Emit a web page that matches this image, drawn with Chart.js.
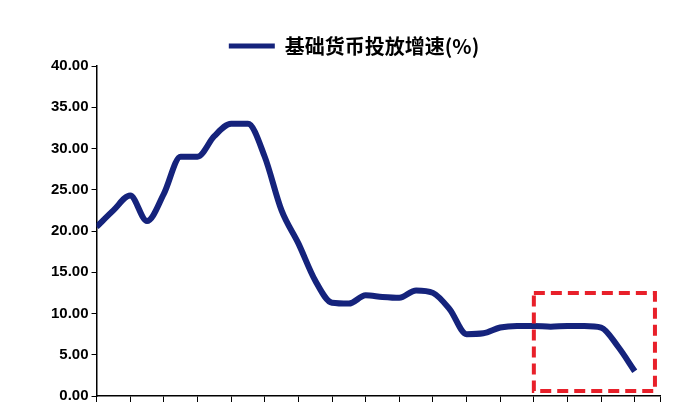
<!DOCTYPE html>
<html><head><meta charset="utf-8">
<script src="https://cdn.jsdelivr.net/npm/chart.js@4"></script>
<style>body{margin:0;background:#fff}#w{width:686px;height:408px}</style>
</head><body><div id="w"><canvas id="c"></canvas></div>
<script>
const seriesName = "基础货币投放增速(%)";
const xIndex = [0,1,2,3,4,5,6,7,8,9,10,11,12,13,14,15,16,17,18,19,20,21,22,23,24,25,26,27,28,29,30,31,32];
const values = [20.5,22.5,24.3,21.2,24.5,29,29,31.5,33,33,29,22.5,18.5,14,11.3,11.2,12.2,12,11.9,12.8,12.5,10.5,7.5,7.6,8.3,8.5,8.5,8.4,8.5,8.5,8.3,6,3];
const yTicks = [0,5,10,15,20,25,30,35,40];
const boxRange = {x0:26, x1:33.2, y0:0.6, y1:12.5};

const boxPlugin = {id:'box', afterDatasetsDraw(ch){
  const {ctx, scales:{x,y}} = ch;
  ctx.save(); ctx.strokeStyle='#e8202a'; ctx.lineWidth=4; ctx.setLineDash([11,6]);
  const l=x.getPixelForValue(boxRange.x0), r=x.getPixelForValue(boxRange.x1);
  const t=y.getPixelForValue(boxRange.y1), b=y.getPixelForValue(boxRange.y0);
  ctx.strokeRect(l,t,r-l,b-t); ctx.restore();
}};
new Chart(document.getElementById('c'), {
  type:'line',
  data:{datasets:[{label:seriesName, data:xIndex.map((v,i)=>({x:v,y:values[i]})),
    borderColor:'#15237c', backgroundColor:'#15237c', borderWidth:6, pointRadius:0, tension:0.4, cubicInterpolationMode:'monotone'}]},
  options:{responsive:true, maintainAspectRatio:false, animation:false,
    layout:{padding:{left:48,right:26,top:14,bottom:0}},
    plugins:{legend:{labels:{color:'#000',font:{size:20,weight:'bold',family:'Noto Sans CJK SC'},boxWidth:46,boxHeight:5,padding:22,
      generateLabels:(ch)=>[{text:seriesName,fillStyle:'#15237c',strokeStyle:'#15237c',lineWidth:0}]}},tooltip:{enabled:false}},
    scales:{
      x:{type:'linear',min:0,max:33.5,grid:{display:true,drawOnChartArea:false,drawTicks:true,tickLength:6,tickColor:'#000'},
        border:{color:'#000',width:1.5},ticks:{stepSize:2,callback:()=>' ',maxRotation:0,padding:0,font:{size:2}}},
      y:{min:0,max:40,afterBuildTicks:(a)=>{a.ticks=yTicks.map(v=>({value:v}));},
        grid:{display:true,drawOnChartArea:false,tickLength:5,tickColor:'#000'},border:{color:'#000',width:1.5},
        ticks:{color:'#000',font:{size:15,weight:'bold',family:'Liberation Sans'},callback:v=>Number(v).toFixed(2)}}
    }},
  plugins:[boxPlugin]
});
</script></body></html>
